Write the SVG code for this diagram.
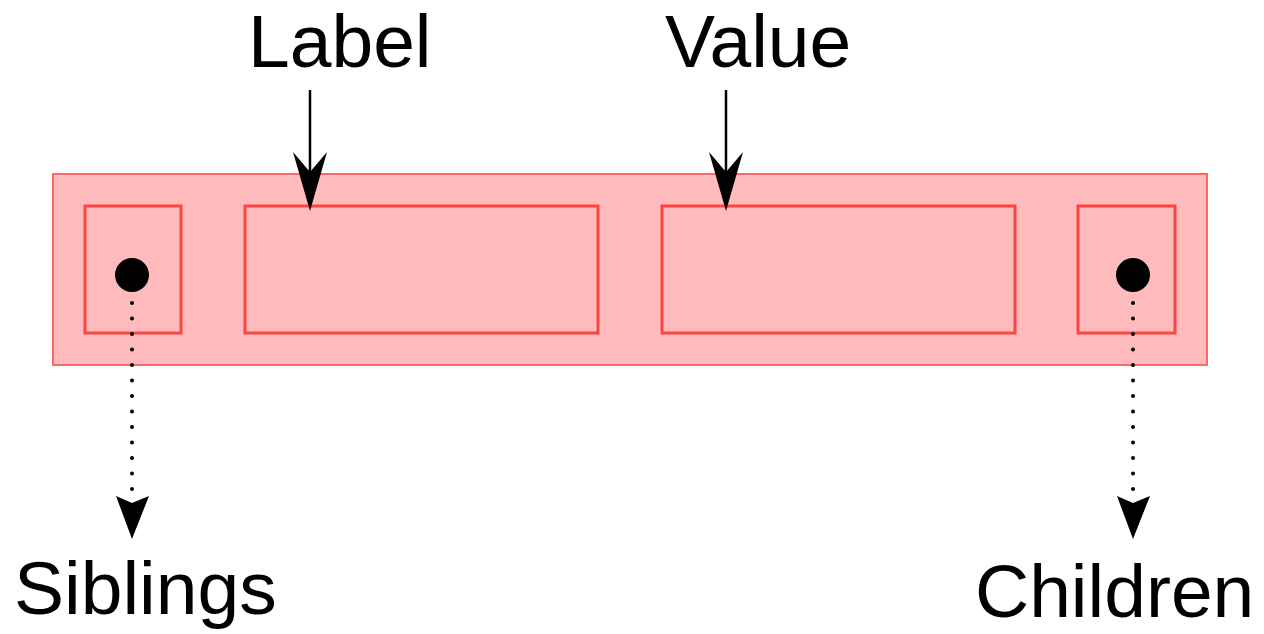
<svg xmlns="http://www.w3.org/2000/svg" width="1264" height="634" viewBox="0 0 1264 634">
<defs>
<style>
.outer{fill:#ffbbbb;stroke:#ff6666;stroke-width:2}
.inner{fill:none;stroke:#ff4444;stroke-width:3}
.txt{font-family:"Liberation Sans",Arial,sans-serif;font-size:75px;fill:#000}
.solid{stroke:#000;stroke-width:2.5;fill:none}
.dotted{stroke:#000;stroke-width:4;fill:none;stroke-dasharray:0 15.5;stroke-linecap:round}
.head{fill:#000}
</style>
</defs>
<rect width="1264" height="634" fill="#fff"/>
<g id="node-record">
<rect class="outer" x="53" y="174" width="1154" height="191"/>
</g>
<g id="node-siblings-slot">
<rect class="inner" x="85" y="206" width="96" height="127"/>
<circle cx="132" cy="275" r="17" fill="#000"/>
</g>
<g id="node-label-slot">
<rect class="inner" x="245" y="206" width="353" height="127"/>
</g>
<g id="node-value-slot">
<rect class="inner" x="662" y="206" width="353" height="127"/>
</g>
<g id="node-children-slot">
<rect class="inner" x="1078" y="206" width="97" height="127"/>
<circle cx="1133" cy="275" r="17" fill="#000"/>
</g>
<g id="node-label-text"><text class="txt" x="248" y="67">Label</text></g>
<g id="node-value-text"><text class="txt" x="665" y="67">Value</text></g>
<g id="node-siblings-text"><text class="txt" x="14" y="614">Siblings</text></g>
<g id="node-children-text"><text class="txt" x="975" y="617">Children</text></g>
<g id="connectors">
<line class="solid" x1="310" y1="90" x2="310" y2="175"/>
<path class="head" d="M293,152 L310,172 L327,152 L310,211 Z"/>
<line class="solid" x1="726" y1="90" x2="726" y2="175"/>
<path class="head" d="M709,152 L726,172 L743,152 L726,211 Z"/>
<line class="dotted" x1="132" y1="303" x2="132" y2="500"/>
<path class="head" d="M116,496 L132,503 L149,496 L132,539 Z"/>
<line class="dotted" x1="1133" y1="303" x2="1133" y2="500"/>
<path class="head" d="M1117,496 L1133,503 L1150,496 L1133,539 Z"/>
</g>
</svg>
